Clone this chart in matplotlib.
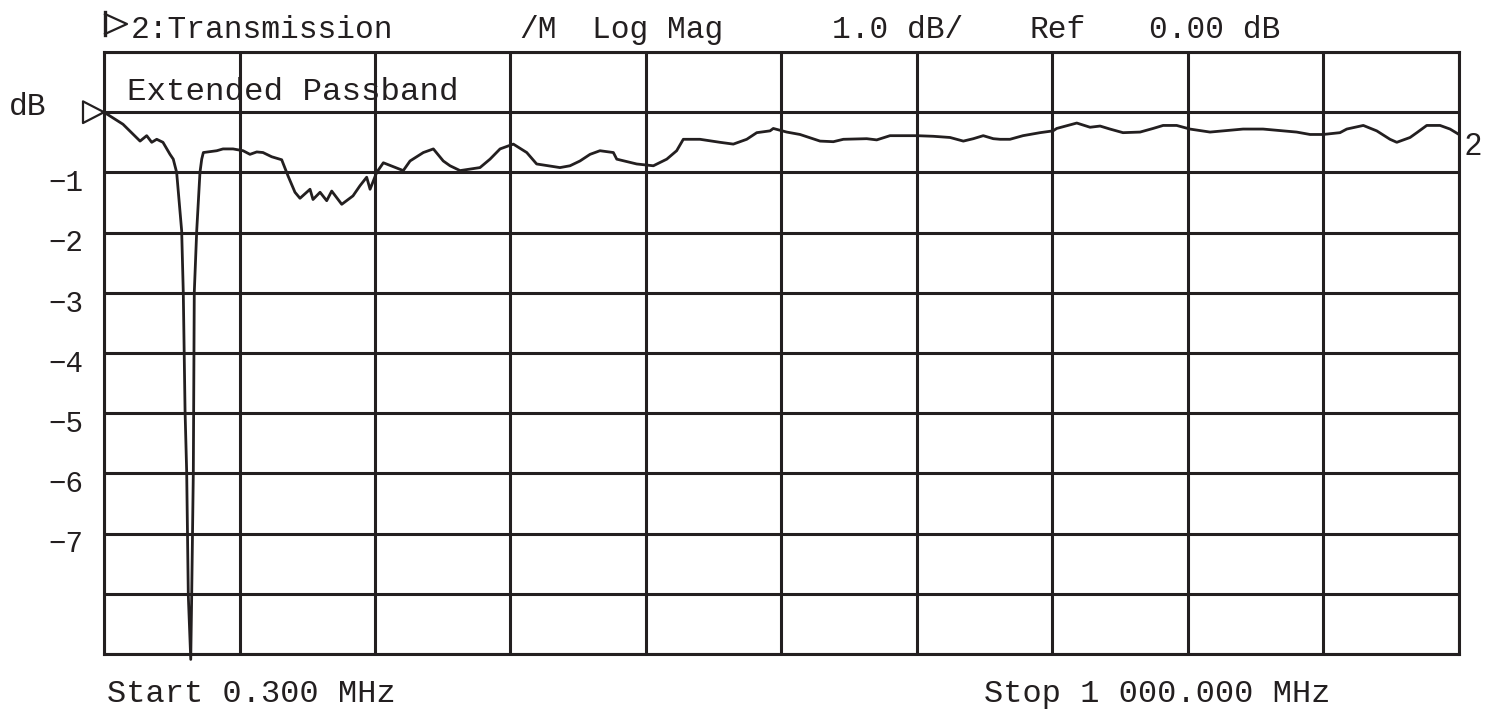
import matplotlib
matplotlib.use("Agg")
import matplotlib.pyplot as plt
import numpy as np

# trace: frequency (MHz) and transmission (dB)
freq_mhz = [0.3, 14.3, 26.9, 31.8, 35.5, 39.2, 43.8, 49.0, 51.4, 53.9,
            57.6, 58.8, 60.1, 61.3, 62.5, 64.3, 65.0, 66.2, 66.9, 68.7,
            71.1, 72.4, 73.6, 83.5, 88.1, 95.5, 102.9, 108.0, 113.0, 117.6,
            124.0, 131.4, 136.1, 141.2, 144.9, 152.3, 154.5, 159.7, 164.6, 168.3,
            175.7, 184.0, 189.2, 194.1, 196.6, 201.5, 206.4, 221.1, 226.1, 235.9,
            243.3, 250.6, 255.6, 263.0, 277.7, 285.1, 292.5, 302.3, 312.2, 319.5,
            336.7, 344.1, 351.5, 358.9, 366.2, 376.1, 378.6, 393.3, 405.6, 415.5,
            422.8, 427.7, 440.0, 454.7, 464.6, 474.5, 481.9, 491.7, 494.1, 504.0,
            513.8, 528.6, 538.4, 545.8, 563.0, 570.4, 580.2, 599.9, 612.1, 624.5,
            634.3, 641.7, 649.0, 656.4, 661.4, 668.7, 678.3, 690.9, 700.5, 703.2,
            718.0, 727.8, 735.2, 742.5, 752.1, 764.7, 774.3, 781.7, 791.7, 801.5,
            816.3, 825.9, 840.7, 855.4, 870.2, 880.2, 890.1, 899.7, 912.2, 917.2,
            929.4, 939.3, 949.1, 954.1, 963.9, 968.9, 976.2, 986.0, 993.4, 1000.0]
trans_db = [0.00, -0.20, -0.48, -0.39, -0.50, -0.45, -0.50, -0.70, -0.78, -1.00,
            -1.97, -3.00, -4.96, -5.98, -8.03, -9.09, -8.03, -5.98, -3.00, -1.97,
            -1.00, -0.78, -0.67, -0.64, -0.61, -0.61, -0.64, -0.70, -0.66, -0.67,
            -0.74, -0.79, -1.06, -1.33, -1.43, -1.28, -1.45, -1.33, -1.47, -1.31,
            -1.53, -1.39, -1.22, -1.08, -1.28, -1.00, -0.84, -0.97, -0.81, -0.67,
            -0.61, -0.81, -0.89, -0.97, -0.92, -0.78, -0.61, -0.53, -0.67, -0.86,
            -0.92, -0.89, -0.81, -0.70, -0.64, -0.67, -0.78, -0.86, -0.89, -0.78,
            -0.64, -0.45, -0.45, -0.50, -0.53, -0.45, -0.34, -0.31, -0.27, -0.33,
            -0.37, -0.48, -0.49, -0.45, -0.44, -0.46, -0.39, -0.39, -0.40, -0.42,
            -0.48, -0.44, -0.39, -0.44, -0.45, -0.45, -0.39, -0.34, -0.31, -0.27,
            -0.18, -0.25, -0.23, -0.28, -0.34, -0.33, -0.27, -0.22, -0.22, -0.28,
            -0.33, -0.31, -0.28, -0.28, -0.31, -0.33, -0.37, -0.37, -0.34, -0.28,
            -0.22, -0.31, -0.45, -0.50, -0.42, -0.34, -0.22, -0.22, -0.28, -0.37]

start_mhz = 0.3
stop_mhz = 1000.0
ref_db = 0.0
db_per_div = 1.0
y_labels = [-1, -2, -3, -4, -5, -6, -7]

ink = '#231f20'
mono = 'Liberation Mono'
W, H = 1494, 711
fs = 22.5

fig = plt.figure(figsize=(W / 100, H / 100), dpi=100)
ax = fig.add_axes([104 / W, 1 - 654 / H, (1459 - 104) / W, (654 - 52) / H])

ax.plot(freq_mhz, trans_db, color=ink, lw=2.0, clip_on=False, zorder=3)

ax.set_xlim(start_mhz, stop_mhz)
ax.set_ylim(ref_db - 9 * db_per_div, ref_db + 1 * db_per_div)
ax.set_xticks(np.linspace(start_mhz, stop_mhz, 11))
ax.set_yticks(np.arange(-9, 2) * db_per_div)
ax.set_xticklabels([])
ax.set_yticklabels([])
ax.tick_params(length=0)
ax.grid(True, color=ink, lw=2.2)
for s in ax.spines.values():
    s.set_color(ink)
    s.set_linewidth(2.2)

def px(x, y):
    return x / W, 1 - y / H

# dB scale labels on the left
for v in y_labels:
    yp = 113 + (ref_db - v) / db_per_div * 60.2
    fig.text(*px(83, yp + 18), f'\u2212{abs(v)}', ha='right', va='baseline',
             fontsize=21, family=mono, color=ink)
fig.text(*px(9, 115), 'dB', ha='left', va='baseline', fontsize=fs,
         family=mono, color=ink)

# reference marker (open triangle) at 0 dB
ax.plot([0.0, -0.0155, -0.0155, 0.0], [0.9, 0.918, 0.882, 0.9],
        transform=ax.transAxes, color=ink, lw=1.6, clip_on=False)

# header
fig.lines.append(plt.Line2D([105 / W, 105 / W], [1 - 12 / H, 1 - 35 / H],
                            transform=fig.transFigure, color=ink, lw=2.4))
fig.lines.append(plt.Line2D([105 / W, 127 / W, 105 / W],
                            [1 - 14 / H, 1 - 24 / H, 1 - 34 / H],
                            transform=fig.transFigure, color=ink, lw=1.6))
head_y = 38
fig.text(*px(131, head_y), '2:Transmission', ha='left', va='baseline',
         fontsize=fs, family=mono, color=ink)
fig.text(*px(519, head_y), '/M', ha='left', va='baseline',
         fontsize=fs, family=mono, color=ink)
fig.text(*px(592, head_y), 'Log Mag', ha='left', va='baseline',
         fontsize=fs, family=mono, color=ink)
fig.text(*px(832, head_y), '1.0 dB/', ha='left', va='baseline',
         fontsize=fs, family=mono, color=ink)
fig.text(*px(1029, head_y), 'Ref', ha='left', va='baseline',
         fontsize=fs, family=mono, color=ink)
fig.text(*px(1149, head_y), '0.00 dB', ha='left', va='baseline',
         fontsize=fs, family=mono, color=ink)

fig.text(*px(127, 100), 'Extended Passband', ha='left', va='baseline',
         fontsize=23.4, family=mono, color=ink)
fig.text(*px(1464, 155), '2', ha='left', va='baseline', fontsize=22,
         family='Liberation Sans', color=ink)

fig.text(*px(107, 702), 'Start 0.300 MHz', ha='left', va='baseline',
         fontsize=23, family=mono, color=ink)
fig.text(*px(984, 702), 'Stop 1 000.000 MHz', ha='left', va='baseline',
         fontsize=23, family=mono, color=ink)

fig.savefig('out.png', dpi=100, facecolor='white')
